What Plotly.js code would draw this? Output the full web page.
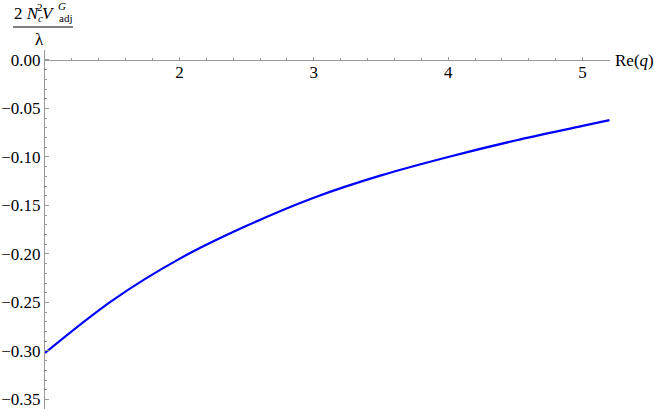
<!DOCTYPE html>
<html>
<head>
<meta charset="utf-8">
<script src="https://cdn.plot.ly/plotly-3.0.1.min.js"></script>
<style>
  body { margin: 0; background: #fff; }
  #chart { width: 654px; height: 409px; }
</style>
</head>
<body>
<div id="chart"></div>
<script>
// values
const reQ = [1, 1.5, 2, 2.5, 3, 3.5, 4, 4.5, 5, 5.2];
const vAdj = [-0.302, -0.248, -0.205, -0.171, -0.142, -0.119, -0.100, -0.083, -0.068, -0.062];
const yTicks = [0, -0.05, -0.10, -0.15, -0.20, -0.25, -0.30, -0.35];
const xTicks = [2, 3, 4, 5];

const W = 654, H = 409;
const mL = 45, mR = 44, mT = 50, mB = 0;
const plotW = W - mL - mR, plotH = H - mT - mB;
const xRange = [1, 5.204];
const yRange = [-0.3598, 0.0103];

// pixel -> paper helpers for the title pieces
function px(x) { return (x - mL) / plotW; }
function py(y) { return 1 - (y - mT) / plotH; }

const serif = '"Liberation Serif", "Times New Roman", Times, serif';
const axisGray = '#999999';

function label(text, x, y, size, anchor) {
    return {
        text: text, x: px(x), y: py(y), xref: 'paper', yref: 'paper',
        xanchor: anchor || 'center', yanchor: 'middle', showarrow: false,
        font: {family: serif, size: size, color: '#000'}, borderpad: 0
    };
}

const trace = {
    x: reQ,
    y: vAdj,
    type: 'scatter',
    mode: 'lines',
    line: {color: '#0000ff', width: 2.2, shape: 'spline'},
    hoverinfo: 'skip'
};

const layout = {
    width: W, height: H,
    margin: {l: mL, r: mR, t: mT, b: mB, pad: 0},
    paper_bgcolor: '#fff', plot_bgcolor: '#fff',
    showlegend: false,
    font: {family: serif, color: '#000'},
    xaxis: {
        range: xRange,
        anchor: 'free',
        position: (0 - yRange[0]) / (yRange[1] - yRange[0]),
        side: 'bottom',
        showline: true, linecolor: axisGray, linewidth: 1,
        showgrid: false, zeroline: false,
        tickmode: 'array', tickvals: xTicks, ticktext: xTicks.map(String),
        ticks: 'inside', ticklen: 3, tickcolor: axisGray, tickwidth: 1,
        minor: {dtick: 0.2, tick0: 0, ticks: 'inside', ticklen: 2, tickcolor: axisGray, showgrid: false},
        tickfont: {family: serif, size: 17, color: '#000'},
        ticklabelstandoff: -3,
        ticklabeloverflow: 'allow'
    },
    yaxis: {
        range: yRange,
        showline: true, linecolor: axisGray, linewidth: 1,
        showgrid: false, zeroline: false,
        tickmode: 'array', tickvals: yTicks,
        ticktext: yTicks.map(v => (v < 0 ? '\u2212' : '') + Math.abs(v).toFixed(2)),
        ticks: 'inside', ticklen: 4, tickcolor: axisGray, tickwidth: 1,
        minor: {dtick: 0.01, tick0: 0, ticks: 'inside', ticklen: 2, tickcolor: axisGray, showgrid: false},
        tickfont: {family: serif, size: 17, color: '#000'},
        ticklabeloverflow: 'allow'
    },
    annotations: [
        label('2 <i>N</i>', 13, 14, 17, 'left'),
        label('2', 40, 7, 11),
        label('<i>c</i>', 40, 18, 11),
        label('<i>V</i>', 48.5, 14, 17),
        label('<i>G</i>', 62, 6, 11),
        label('adj', 65, 18, 11),
        label('\u03bb', 39.5, 39, 17),
        label('Re(<i>q</i>)', 614, 60, 17, 'left')
    ],
    shapes: [{
        type: 'line', xref: 'paper', yref: 'paper',
        x0: px(13), x1: px(73), y0: py(27), y1: py(27),
        line: {color: '#000', width: 1}
    }]
};

Plotly.newPlot('chart', [trace], layout, {displayModeBar: false, staticPlot: true});
</script>
</body>
</html>
